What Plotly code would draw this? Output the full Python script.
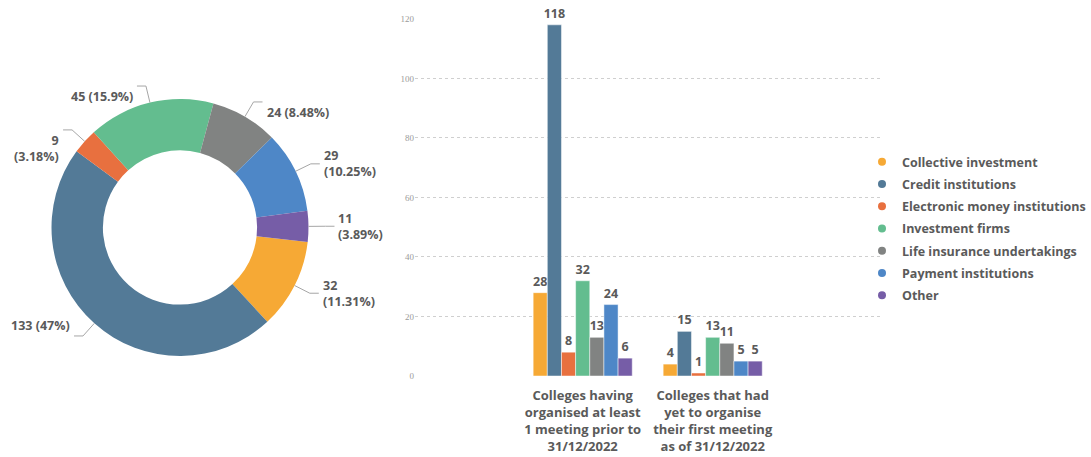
import math
import plotly.graph_objects as go

# ---------------- data ----------------
categories = [
    "Collective investment",
    "Credit institutions",
    "Electronic money institutions",
    "Investment firms",
    "Life insurance undertakings",
    "Payment institutions",
    "Other",
]
pie_values = [32, 133, 9, 45, 24, 29, 11]
group_labels = [
    "Colleges having<br>organised at least<br>1 meeting prior to<br>31/12/2022",
    "Colleges that had<br>yet to organise<br>their first meeting<br>as of 31/12/2022",
]
met_values = [28, 118, 8, 32, 13, 24, 6]
not_met_values = [4, 15, 1, 13, 11, 5, 5]
y_ticks = [0, 20, 40, 60, 80, 100, 120]

# ---------------- style ----------------
colors = ["#F6A935", "#537A97", "#E8703F", "#63BD8F", "#818382", "#4E87C7", "#765DA7"]
label_wrap = [True, False, True, False, False, True, True]
W, H = 1091, 457
TXT = "#5a5a5a"
FONT = "Open Sans"

fig = go.Figure()

# ---------------- donut ----------------
cx, cy, R = 180.0, 227.5, 128.5
rotation = 96.5
fig.add_trace(go.Pie(
    labels=categories, values=pie_values, hole=0.6, sort=False,
    direction="clockwise", rotation=rotation,
    marker=dict(colors=colors, line=dict(width=0)),
    textinfo="none", showlegend=False, hoverinfo="label+value+percent",
    domain=dict(x=[(cx - R) / W, (cx + R) / W], y=[1 - (cy + R) / H, 1 - (cy - R) / H]),
))

def px(x):
    return x / W

def py(y):
    return 1 - y / H

total = sum(pie_values)
cum = 0
for i, v in enumerate(pie_values):
    a0 = rotation + cum / total * 360
    cum += v
    a1 = rotation + cum / total * 360
    mid = math.radians((a0 + a1) / 2)
    s, c = math.sin(mid), math.cos(mid)
    x0, y0 = cx + R * s, cy - R * c
    x1, y1 = cx + (R + 17) * s, cy - (R + 17) * c
    side = 1 if s >= 0 else -1
    x2 = x1 + side * 9
    fig.add_shape(type="path", xref="paper", yref="paper",
                  path=f"M {px(x0)} {py(y0)} L {px(x1)} {py(y1)} L {px(x2)} {py(y1)}",
                  line=dict(color="#a6a6a6", width=1))
    pct = f"{round(v / total * 100, 2):g}"
    sep = "<br>" if label_wrap[i] else " "
    fig.add_annotation(xref="paper", yref="paper", x=px(x2 + side * 2), y=py(y1),
                       text=f"{v}{sep}({pct}%)", showarrow=False,
                       xanchor="left" if side > 0 else "right",
                       align="left" if side > 0 else "right",
                       font=dict(family=FONT, size=12.5, color=TXT, weight="bold"))

# ---------------- bars ----------------
for i, cat in enumerate(categories):
    vals = [met_values[i], not_met_values[i]]
    fig.add_trace(go.Bar(
        x=group_labels, y=vals, name=cat, marker=dict(color=colors[i],
        line=dict(color="rgba(255,255,255,0.6)", width=0.8)),
        text=[str(v) for v in vals], textposition="outside", cliponaxis=False,
        constraintext="none",
        textfont=dict(family=FONT, size=12.5, color=TXT, weight="bold"),
        showlegend=False, xaxis="x", yaxis="y",
    ))
    fig.add_trace(go.Scatter(
        x=[None], y=[None], mode="markers", name=cat, legendgroup=str(i),
        marker=dict(symbol="circle", size=8, color=colors[i]),
        xaxis="x", yaxis="y",
    ))

fig.update_layout(
    width=W, height=H, margin=dict(l=0, r=0, t=0, b=0, pad=0, autoexpand=False),
    paper_bgcolor="white", plot_bgcolor="white",
    barmode="group", bargap=0.238, bargroupgap=0,
    xaxis=dict(domain=[415 / W, 883 / W], range=[-1.29, 2.31], showgrid=False,
               showline=False, zeroline=False, ticks="", ticklabelstandoff=10,
               tickfont=dict(family=FONT, size=13, color=TXT, weight="bold")),
    yaxis=dict(domain=[1 - 376 / H, 1 - 18 / H], range=[0, 120.3], tickvals=y_ticks,
               showgrid=True, gridcolor="#cfcfcf", griddash="dot", gridwidth=1,
               zeroline=False, showline=False, ticks="",
               tickfont=dict(family="Liberation Serif", size=9, color="#9a9a9a")),
    legend=dict(x=862 / W, xanchor="left", y=py(228.5), yanchor="middle",
                tracegroupgap=3, itemwidth=30,
                font=dict(family=FONT, size=12.5, color=TXT, weight="bold"),
                bgcolor="rgba(0,0,0,0)"),
    showlegend=True,
)

fig.write_html("out.html")
